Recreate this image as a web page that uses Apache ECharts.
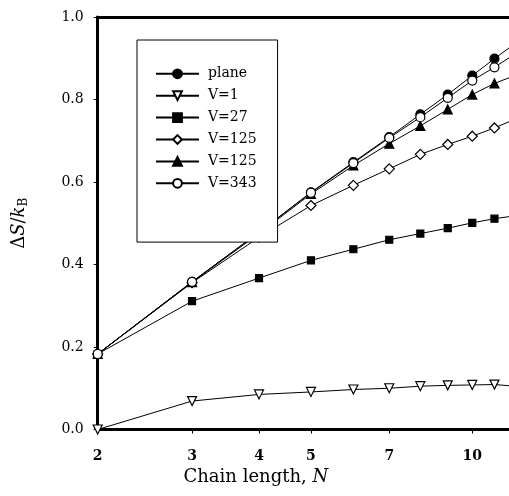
<!DOCTYPE html>
<html>
<head>
<meta charset="utf-8">
<script src="https://cdn.jsdelivr.net/npm/echarts@6/dist/echarts.min.js"></script>
<style>html,body{margin:0;padding:0;background:#fff;}#c{width:509px;height:496px;}</style>
</head>
<body>
<div id="c"></div>
<script>
// Chain length N (x) and ΔS/kB values per series
const chainN = [2, 3, 4, 5, 6, 7, 8, 9, 10, 11, 12];
const plane  = [0.183, 0.358, 0.478, 0.575, 0.648, 0.709, 0.764, 0.812, 0.858, 0.899, 0.935];
const v1     = [0.000, 0.069, 0.085, 0.091, 0.097, 0.100, 0.105, 0.107, 0.108, 0.109, 0.105];
const v27    = [0.183, 0.311, 0.367, 0.410, 0.437, 0.460, 0.475, 0.488, 0.501, 0.511, 0.518];
const v125a  = [0.183, 0.356, 0.466, 0.543, 0.592, 0.632, 0.667, 0.691, 0.711, 0.731, 0.752];
const v125b  = [0.183, 0.357, 0.475, 0.571, 0.640, 0.693, 0.736, 0.776, 0.812, 0.839, 0.858];
const v343   = [0.183, 0.358, 0.478, 0.574, 0.646, 0.707, 0.757, 0.804, 0.846, 0.878, 0.910];
const seriesLabels = ['plane', 'V=1', 'V=27', 'V=125', 'V=125', 'V=343'];
const xTicks = [2, 3, 4, 5, 7, 10];
const yTicks = [0, 0.2, 0.4, 0.6, 0.8, 1.0];

const seriesValues = [plane, v1, v27, v125a, v125b, v343];
const symbols = ['circle', 'triangle', 'rect', 'diamond', 'triangle', 'circle'];
const fills = ['#000', '#fff', '#000', '#fff', '#000', '#fff'];
const sizes = [9, 9, 7, 10, 9, 9];
const rotates = [0, 180, 0, 0, 0, 0];
// unique internal names (two series share the label "V=125")
const ids = seriesLabels.map((s, i) => s + '#' + i);

const chart = echarts.init(document.getElementById('c'), null, {renderer: 'canvas'});
const serif = 'DejaVu Serif';
const xMin = 2, xMax = 11.71;

chart.setOption({
  backgroundColor: '#fff',
  animation: false,
  grid: {left: 97.7, right: 0, top: 17, bottom: 66.5, show: false},
  legend: {
    data: ids,
    orient: 'vertical',
    left: 137, top: 40,
    padding: [26.8, 21, 51.8, 18],
    itemWidth: 43, itemHeight: 11, itemGap: 7.9,
    backgroundColor: '#fff',
    borderColor: '#000', borderWidth: 1,
    formatter: n => n.split('#')[0],
    textStyle: {fontFamily: serif, fontSize: 14, color: '#000', lineHeight: 11, padding: [0, 0, 0, 4]},
    selectedMode: false
  },
  xAxis: [{
    type: 'log', logBase: 10, min: xMin, max: xMax,
    name: 'Chain length, {it|N}',
    nameLocation: 'middle', nameGap: 22,
    nameTextStyle: {fontFamily: serif, fontSize: 18, color: '#000', padding: [0, 95, 0, 0],
      rich: {it: {fontFamily: serif, fontSize: 18, fontStyle: 'italic', color: '#000'}}},
    axisLine: {show: true, lineStyle: {color: '#000', width: 3}},
    axisTick: {show: true, inside: false, length: 4, lineStyle: {color: '#000', width: 1}, customValues: xTicks},
    axisLabel: {customValues: xTicks, margin: 20, fontFamily: serif, fontWeight: 'bold', fontSize: 14, color: '#000',
      formatter: v => String(Math.round(v))},
    splitLine: {show: false},
    minorTick: {show: false}
  }, {
    type: 'log', logBase: 10, min: xMin, max: xMax, position: 'top',
    axisLine: {show: true, lineStyle: {color: '#000', width: 3}},
    axisTick: {show: false}, axisLabel: {show: false}, splitLine: {show: false}
  }],
  yAxis: {
    type: 'value', min: 0, max: 1, interval: 0.2,
    name: '{n|Δ}{it|S}{n|/}{it|k}{sub|B}',
    nameLocation: 'middle', nameGap: 68, nameRotate: 90,
    nameTextStyle: {fontFamily: serif, fontSize: 18, color: '#000',
      rich: {
        n: {fontFamily: serif, fontSize: 18, color: '#000'},
        it: {fontFamily: serif, fontSize: 18, fontStyle: 'italic', color: '#000'},
        sub: {fontFamily: serif, fontSize: 12, color: '#000', padding: [8, 0, 0, 0]}
      }},
    axisLine: {show: true, lineStyle: {color: '#000', width: 3}},
    axisTick: {show: true, inside: false, length: 4, lineStyle: {color: '#000', width: 1}},
    axisLabel: {margin: 14, fontFamily: serif, fontSize: 14, color: '#000', formatter: v => v.toFixed(1)},
    splitLine: {show: false}
  },
  series: seriesValues.map((vals, i) => ({
    name: ids[i],
    type: 'line',
    xAxisIndex: 0,
    data: chainN.map((n, j) => [n, vals[j]]),
    symbol: symbols[i],
    symbolSize: sizes[i],
    symbolRotate: rotates[i],
    showAllSymbol: true,
    clip: true,
    lineStyle: {color: '#000', width: 1},
    itemStyle: {color: fills[i], borderColor: '#000', borderWidth: 1.2},
    emphasis: {disabled: true},
    z: 2 + i * 0.01
  }))
});
</script>
</body>
</html>
